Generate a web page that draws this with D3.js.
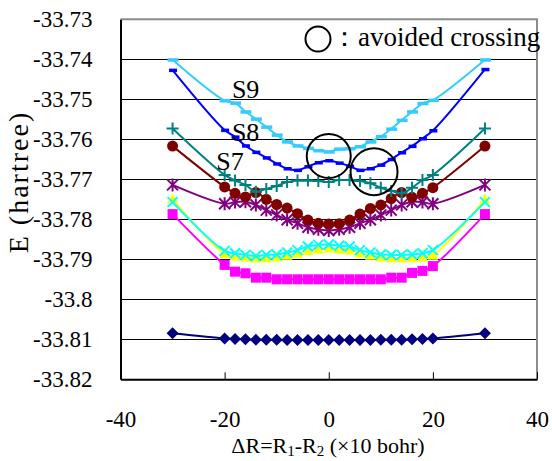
<!DOCTYPE html>
<html>
<head>
<meta charset="utf-8">
<script src="https://cdn.jsdelivr.net/npm/d3@7"></script>
<style>
  body { margin: 0; background: #fff; }
  svg { display: block; }
  text { font-family: "Liberation Serif", "Times New Roman", serif; fill: #000; }
</style>
</head>
<body>
<div id="chart"></div>
<script>
// dR = R1 - R2 (x10 bohr)
const dR = [-30, -20, -18, -16, -14, -12, -10, -8, -6, -4, -2, 0, 2, 4, 6, 8, 10, 12, 14, 16, 18, 20, 30];

// energies (hartree), lowest state first
const s1 = [-33.8085, -33.8098, -33.8099, -33.8100, -33.8101, -33.8101, -33.8101, -33.8102, -33.8102, -33.8102, -33.8102, -33.8102, -33.8102, -33.8102, -33.8102, -33.8102, -33.8101, -33.8101, -33.8101, -33.8100, -33.8099, -33.8098, -33.8085];
const s2 = [-33.7787, -33.7914, -33.7931, -33.7935, -33.7946, -33.7946, -33.7950, -33.7950, -33.7950, -33.7950, -33.7950, -33.7950, -33.7950, -33.7950, -33.7950, -33.7950, -33.7950, -33.7946, -33.7946, -33.7934, -33.7929, -33.7917, -33.7787];
const s3 = [-33.7750, -33.7886, -33.7892, -33.7895, -33.7897, -33.7896, -33.7894, -33.7890, -33.7885, -33.7878, -33.7874, -33.7872, -33.7874, -33.7877, -33.7884, -33.7890, -33.7894, -33.7896, -33.7897, -33.7896, -33.7894, -33.7890, -33.7750];
const s4 = [-33.7757, -33.7879, -33.7885, -33.7889, -33.7892, -33.7889, -33.7888, -33.7883, -33.7877, -33.7868, -33.7864, -33.7863, -33.7866, -33.7868, -33.7877, -33.7883, -33.7888, -33.7889, -33.7889, -33.7888, -33.7885, -33.7877, -33.7757];
const s5 = [-33.7714, -33.7761, -33.7757, -33.7756, -33.7764, -33.7777, -33.7789, -33.7801, -33.7810, -33.7820, -33.7825, -33.7828, -33.7825, -33.7820, -33.7810, -33.7801, -33.7789, -33.7777, -33.7764, -33.7756, -33.7757, -33.7761, -33.7714];
const s6 = [-33.7617, -33.7719, -33.7735, -33.7744, -33.7733, -33.7750, -33.7763, -33.7772, -33.7786, -33.7802, -33.7810, -33.7812, -33.7811, -33.7802, -33.7787, -33.7773, -33.7764, -33.7748, -33.7733, -33.7745, -33.7735, -33.7721, -33.7617];
const s7 = [-33.7573, -33.7689, -33.7703, -33.7714, -33.7731, -33.7724, -33.7717, -33.7707, -33.7703, -33.7703, -33.7704, -33.7707, -33.7702, -33.7702, -33.7704, -33.7710, -33.7721, -33.7729, -33.7735, -33.7721, -33.7702, -33.7689, -33.7573];
const s8 = [-33.7427, -33.7577, -33.7594, -33.7616, -33.7632, -33.7646, -33.7661, -33.7673, -33.7677, -33.7668, -33.7658, -33.7653, -33.7659, -33.7667, -33.7677, -33.7673, -33.7664, -33.7650, -33.7633, -33.7617, -33.7598, -33.7578, -33.7425];
const s9 = [-33.7401, -33.7503, -33.7509, -33.7531, -33.7549, -33.7569, -33.7589, -33.7606, -33.7616, -33.7622, -33.7628, -33.7631, -33.7624, -33.7623, -33.7618, -33.7606, -33.7593, -33.7574, -33.7552, -33.7531, -33.7510, -33.7502, -33.7401];

const yTicks = [-33.73, -33.74, -33.75, -33.76, -33.77, -33.78, -33.79, -33.8, -33.81, -33.82];
const xTicks = [-40, -20, 0, 20, 40];

// avoided crossings [dR, E]
const crossX = [0, 8.7];
const crossE = [-33.7642, -33.7681];

const stateNames = ["S9", "S8", "S7"];
const stateAtX = [-18.6, -18.6, -21.6];
const stateAtE = [-33.7497, -33.7604, -33.7677];

const W = 552, H = 461;
const x = d3.scaleLinear().domain([-40, 40]).range([120.5, 537]);
const y = d3.scaleLinear().domain([-33.82, -33.73]).range([379.3, 19.3]);

const svg = d3.select("#chart").append("svg")
  .attr("width", W).attr("height", H);

// grid
svg.append("g")
  .selectAll("line")
  .data(yTicks.slice(1, -1))
  .join("line")
  .attr("x1", x(-40)).attr("x2", x(40))
  .attr("y1", d => Math.round(y(d)) + 0.5).attr("y2", d => Math.round(y(d)) + 0.5)
  .attr("stroke", "#000").attr("stroke-width", 1);

// plot frame (top/right grey)
svg.append("path")
  .attr("d", `M${x(-40)},${y(-33.73)}H${x(40)}V${y(-33.82)}`)
  .attr("fill", "none").attr("stroke", "#8c8c8c").attr("stroke-width", 2);

// axes
const yAxis = d3.axisLeft(y).tickValues(yTicks).tickSize(0).tickPadding(28)
  .tickFormat(d => String(d));
const gy = svg.append("g").attr("transform", `translate(${x(-40)},0)`).call(yAxis);
gy.select(".domain").attr("stroke", "#000").attr("stroke-width", 2);
gy.selectAll("text").attr("font-size", 23).attr("font-family", "Liberation Serif");

const xAxis = d3.axisBottom(x).tickValues(xTicks).tickSizeInner(-7).tickSizeOuter(0).tickPadding(31)
  .tickFormat(d => String(d));
const gx = svg.append("g").attr("transform", `translate(0,${y(-33.82)})`).call(xAxis);
gx.select(".domain").attr("stroke", "#000").attr("stroke-width", 2);
gx.selectAll(".tick line").attr("stroke", "#000").attr("stroke-width", 1);
gx.selectAll("text").attr("font-size", 23).attr("font-family", "Liberation Serif");

// markers
function markerPath(kind) {
  const p = d3.path();
  if (kind === "diamond") { const r = 6; p.moveTo(0, -r); p.lineTo(r, 0); p.lineTo(0, r); p.lineTo(-r, 0); p.closePath(); }
  if (kind === "square") { p.rect(-5, -5, 10, 10); }
  if (kind === "triangle") { p.moveTo(0, -6); p.lineTo(5.5, 4.5); p.lineTo(-5.5, 4.5); p.closePath(); }
  if (kind === "x") { p.moveTo(-5, -5); p.lineTo(5, 5); p.moveTo(5, -5); p.lineTo(-5, 5); }
  if (kind === "star") { p.moveTo(-5.5, -5.5); p.lineTo(5.5, 5.5); p.moveTo(5.5, -5.5); p.lineTo(-5.5, 5.5); p.moveTo(0, -6.5); p.lineTo(0, 6.5); }
  if (kind === "circle") { p.arc(0, 0, 5.5, 0, 2 * Math.PI); }
  if (kind === "plus") { p.moveTo(-6, 0); p.lineTo(6, 0); p.moveTo(0, -6); p.lineTo(0, 6); }
  if (kind === "dashS") { p.rect(-3.5, -1.5, 8, 3.5); }
  if (kind === "dashL") { p.rect(-5, -1.5, 11, 3.5); }
  return p.toString();
}

const series = [
  { values: s1, color: "#000080", marker: "diamond", filled: true },
  { values: s2, color: "#ff00ff", marker: "square", filled: true },
  { values: s3, color: "#ffff00", marker: "triangle", filled: true },
  { values: s4, color: "#00ffff", marker: "x", filled: false },
  { values: s5, color: "#800080", marker: "star", filled: false },
  { values: s6, color: "#800000", marker: "circle", filled: true },
  { values: s7, color: "#008080", marker: "plus", filled: false },
  { values: s8, color: "#0000ff", marker: "dashS", filled: true },
  { values: s9, color: "#33ccff", marker: "dashL", filled: true }
];

const line = d3.line()
  .x((d, i) => x(dR[i]))
  .y(d => y(d))
  .curve(d3.curveCatmullRom.alpha(0.5));

series.forEach(s => {
  const g = svg.append("g");
  g.append("path")
    .attr("d", line(s.values))
    .attr("fill", "none")
    .attr("stroke", s.color)
    .attr("stroke-width", 2);
  g.selectAll("path.m")
    .data(s.values)
    .join("path")
    .attr("class", "m")
    .attr("transform", (d, i) => `translate(${x(dR[i])},${y(d)})`)
    .attr("d", markerPath(s.marker))
    .attr("fill", s.filled ? s.color : "none")
    .attr("stroke", s.color)
    .attr("stroke-width", s.filled ? 0 : 2);
});

// avoided crossing circles
svg.append("g")
  .selectAll("circle")
  .data(crossX)
  .join("circle")
  .attr("cx", d => x(d))
  .attr("cy", (d, i) => y(crossE[i]))
  .attr("r", (d, i) => i === 0 ? 22 : 23.5)
  .attr("fill", "none")
  .attr("stroke", "#000")
  .attr("stroke-width", 2);

// state labels
svg.append("g")
  .selectAll("text")
  .data(stateNames)
  .join("text")
  .attr("x", (d, i) => x(stateAtX[i]))
  .attr("y", (d, i) => y(stateAtE[i]))
  .attr("font-size", 26)
  .text(d => d);

// legend
svg.append("circle")
  .attr("cx", 318).attr("cy", 39).attr("r", 12.5)
  .attr("fill", "#fff").attr("stroke", "#000").attr("stroke-width", 2);
svg.append("text")
  .attr("x", 331).attr("y", 46)
  .attr("font-size", 27)
  .text("：avoided crossing");

// axis titles
const xt = svg.append("text")
  .attr("x", 328).attr("y", 453)
  .attr("text-anchor", "middle")
  .attr("font-size", 22);
xt.append("tspan").text("ΔR=R");
xt.append("tspan").attr("font-size", 15).attr("dy", 3).text("1");
xt.append("tspan").attr("dy", -3).text("-R");
xt.append("tspan").attr("font-size", 15).attr("dy", 3).text("2");
xt.append("tspan").attr("dy", -3).text(" (×10 bohr)");

svg.append("text")
  .attr("transform", "translate(28,182) rotate(-90)")
  .attr("text-anchor", "middle")
  .attr("font-size", 28)
  .attr("letter-spacing", 2)
  .text("E (hartree)");
</script>
</body>
</html>
